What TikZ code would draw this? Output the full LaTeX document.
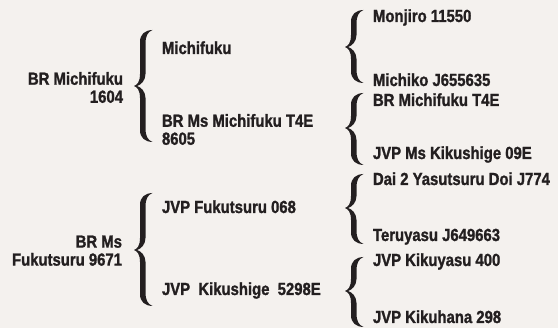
\documentclass[tikz,border=0pt]{standalone}
\usepackage{fontspec}
\setmainfont{Liberation Sans}[FakeStretch=0.85,BoldFeatures={FakeBold=1.3}]
\definecolor{bgcol}{HTML}{F4F1EE}
\definecolor{ink}{HTML}{231F20}
\begin{document}
\begin{tikzpicture}[x=1pt,y=-1pt,
  lbl/.style={inner sep=0pt,outer sep=0pt,text=ink,font=\fontsize{17.5}{18}\selectfont\bfseries},
  pics/curly/.style n args={2}{code={
    \fill[ink] (18.5,-#1) .. controls (11,-#1+0.3) and (6,-#1+4) .. (6,-#1+12)
      -- (6,-12) .. controls (6,-4) and (3,-1) .. (0,0)
      .. controls (3,1) and (6,4) .. (6,12)
      -- (6,#2-12) .. controls (6,#2-4) and (11,#2-0.3) .. (18.5,#2)
      .. controls (13.5,#2-2) and (11.5,#2-6) .. (11.5,#2-14)
      -- (11.5,12) .. controls (11.5,5) and (6.5,1) .. (3,0)
      .. controls (6.5,-1) and (11.5,-5) .. (11.5,-12)
      -- (11.5,-#1+14) .. controls (11.5,-#1+6) and (13.5,-#1+2) .. (18.5,-#1) -- cycle;
  }}]
\fill[bgcol] (0,0) rectangle (558,328);
\useasboundingbox (0,0) rectangle (558,328);

% generation 0
\node[lbl,align=right,anchor=east] (g0a) at (123,87.5) {BR Michifuku\\1604};
\node[lbl,align=right,anchor=east] (g0b) at (122,250.7) {BR Ms\\Fukutsuru 9671};

% generation 1
\node[lbl,anchor=base west] (g1a) at (162,54) {Michifuku};
\node[lbl,align=left,anchor=west] (g1b) at (162,129.5) {BR Ms Michifuku T4E\\8605};
\node[lbl,anchor=base west] (g1c) at (162,213) {JVP Fukutsuru 068};
\node[lbl,anchor=base west] (g1d) at (162,295) {JVP\ \ Kikushige\ \ 5298E};

% generation 2
\node[lbl,anchor=base west] (g2a) at (373,22) {Monjiro 11550};
\node[lbl,anchor=base west] (g2b) at (373,86) {Michiko J655635};
\node[lbl,anchor=base west] (g2c) at (373,106) {BR Michifuku T4E};
\node[lbl,anchor=base west] (g2d) at (373,159) {JVP Ms Kikushige 09E};
\node[lbl,anchor=base west] (g2e) at (373,185) {Dai 2 Yasutsuru Doi J774};
\node[lbl,anchor=base west] (g2f) at (373,241) {Teruyasu J649663};
\node[lbl,anchor=base west] (g2g) at (373,266) {JVP Kikuyasu 400};
\node[lbl,anchor=base west] (g2h) at (373,323) {JVP Kikuhana 298};

% braces
\coordinate (bA) at (134,86);
\coordinate (bB) at (134,250);
\coordinate (bC) at (345,47);
\coordinate (bD) at (345,128);
\coordinate (bE) at (345,208);
\coordinate (bF) at (345,291);
\pic at (bA) {curly={56}{56}};
\pic at (bB) {curly={57}{56}};
\pic at (bC) {curly={37}{36}};
\pic at (bD) {curly={35}{37}};
\pic at (bE) {curly={34}{36}};
\pic at (bF) {curly={34}{36}};
\end{tikzpicture}
\end{document}
